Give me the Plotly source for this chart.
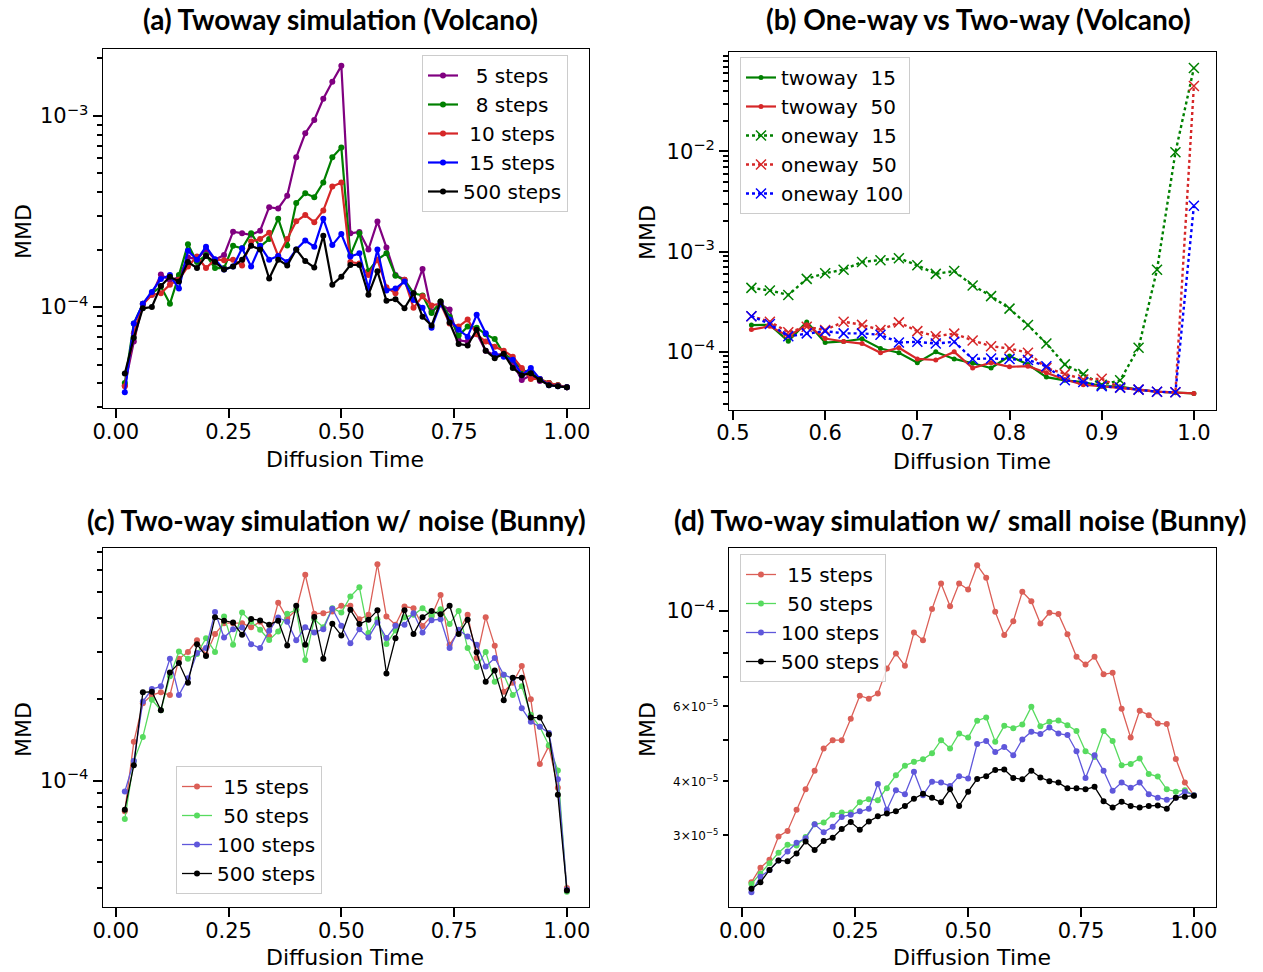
import math
import plotly.graph_objects as go

# ---------------- data ----------------
SCALE = 1e-5  # values below are MMD in units of 1e-5

t50 = [0.02, 0.04, 0.06, 0.08, 0.10, 0.12, 0.14, 0.16, 0.18, 0.20,
       0.22, 0.24, 0.26, 0.28, 0.30, 0.32, 0.34, 0.36, 0.38, 0.40,
       0.42, 0.44, 0.46, 0.48, 0.50, 0.52, 0.54, 0.56, 0.58, 0.60,
       0.62, 0.64, 0.66, 0.68, 0.70, 0.72, 0.74, 0.76, 0.78, 0.80,
       0.82, 0.84, 0.86, 0.88, 0.90, 0.92, 0.94, 0.96, 0.98, 1.00]
t25 = [0.52, 0.54, 0.56, 0.58, 0.60, 0.62, 0.64, 0.66, 0.68, 0.70,
       0.72, 0.74, 0.76, 0.78, 0.80, 0.82, 0.84, 0.86, 0.88, 0.90,
       0.92, 0.94, 0.96, 0.98, 1.00]

# (a) Twoway simulation (Volcano)
a_5 = [3.9, 6.6, 10.4, 11.6, 14.8, 13.8, 14.3, 18.2, 17.8, 20.0, 17.7, 18.7, 24.8, 24.3, 23.9, 25.1, 33.3, 32.8, 38.2, 60.8,
       81.2, 95.3, 123, 151, 183, 24.3, 24.7, 20.0, 28.0, 20.5, 14.7, 13.9, 11.8, 15.8, 9.5, 10.3, 9.7, 6.7, 6.6, 7.3,
       5.9, 5.6, 5.7, 5.1, 4.15, 4.4, 4.1, 4.0, 3.9, 3.8]
a_8 = [4.0, 8.2, 10.4, 11.8, 12.8, 10.4, 14.7, 21.3, 17.2, 18.7, 16.0, 16.0, 20.9, 20.3, 24.3, 20.7, 22.7, 29.0, 21.0, 35.0,
       39.4, 37.6, 44.8, 60.8, 68.3, 18.7, 24.3, 15.4, 17.7, 19.1, 14.6, 13.8, 11.8, 11.5, 9.3, 10.7, 8.9, 7.1, 7.9, 7.8,
       7.2, 6.8, 5.7, 5.3, 4.7, 4.5, 4.2, 4.0, 3.9, 3.8]
a_10 = [3.85, 7.3, 10.3, 11.6, 11.8, 13.1, 13.9, 16.3, 18.4, 16.0, 17.7, 17.6, 17.7, 16.5, 22.0, 22.7, 24.5, 18.5, 22.7, 28.1,
        30.3, 27.8, 32.0, 42.7, 44.8, 17.2, 16.9, 14.7, 17.7, 12.7, 11.8, 13.9, 9.9, 11.4, 10.2, 10.4, 8.2, 7.9, 8.6, 7.2,
        6.6, 6.2, 5.9, 5.5, 4.8, 4.2, 4.2, 4.0, 3.9, 3.8]
a_15 = [3.58, 8.2, 10.4, 12.0, 14.0, 14.7, 12.5, 19.7, 17.7, 20.7, 17.8, 15.7, 16.3, 20.3, 16.3, 20.9, 17.7, 18.5, 17.2, 20.0,
        22.3, 20.7, 29.0, 21.1, 24.1, 18.4, 19.1, 12.5, 20.0, 12.2, 12.5, 13.6, 10.9, 9.9, 7.8, 10.4, 8.6, 7.6, 7.0, 9.1,
        7.3, 5.7, 5.5, 5.3, 4.4, 4.8, 4.2, 3.9, 3.85, 3.8]
a_500 = [4.49, 6.9, 9.85, 10.0, 12.9, 14.4, 13.6, 17.2, 16.0, 18.5, 17.2, 15.7, 16.3, 17.7, 20.9, 20.0, 14.1, 17.7, 16.5, 20.0,
         17.4, 16.1, 23.6, 13.1, 14.4, 16.6, 16.6, 11.6, 15.4, 10.8, 11.0, 9.85, 11.8, 8.9, 8.0, 10.7, 8.3, 6.4, 6.3, 7.6,
         5.9, 5.4, 5.7, 4.8, 4.4, 4.5, 4.15, 3.9, 3.85, 3.8]

# (b) One-way vs Two-way (Volcano)
b_two15 = [18.5, 18.6, 12.8, 19.9, 12.4, 12.7, 13.5, 10.8, 9.8, 7.8, 10.0, 8.5, 7.7, 6.9, 9.1, 7.5, 5.6, 5.2, 5.0, 4.55,
           4.5, 4.2, 4.0, 3.9, 3.85]
b_two50 = [16.7, 18.0, 14.3, 18.6, 13.6, 12.7, 12.1, 9.8, 11.0, 8.5, 8.3, 10.0, 6.9, 7.8, 7.1, 7.2, 6.2, 5.3, 4.7, 4.55,
           4.4, 4.2, 4.0, 3.95, 3.85]
b_one15 = [43.5, 41, 37, 53.5, 61, 66, 79, 82, 86, 73, 60, 64, 46, 36, 27, 18.5, 12.1, 7.5, 6.0, 4.7,
           5.2, 11.0, 66, 980, 6800]
b_one50 = [22.7, 20.0, 15.7, 17.8, 16.5, 20.0, 18.6, 16.5, 19.7, 16.1, 14.3, 15.2, 13.0, 11.4, 10.8, 9.8, 6.9, 6.0, 5.3, 5.4,
           4.4, 4.2, 4.0, 3.95, 4500]
b_one100 = [22.7, 19.0, 14.3, 15.3, 16.1, 15.3, 15.3, 14.8, 12.4, 12.6, 12.1, 12.6, 8.5, 8.6, 8.5, 8.3, 7.2, 5.2, 5.0, 4.55,
            4.4, 4.2, 4.0, 3.95, 287]

# (c) Two-way simulation w/ noise (Bunny)
c_15 = [7.7, 13.9, 19.3, 20.7, 21.2, 20.7, 28.2, 29.9, 33.0, 29.2, 34.8, 38.2, 38.2, 38.2, 36.9, 38.7, 34.1, 45.5, 39.8, 42.8,
        57.7, 41.4, 41.6, 42.2, 44.3, 44.3, 39.5, 41.0, 63.1, 40.4, 37.7, 44.0, 43.4, 37.3, 40.6, 48.6, 31.8, 35.6, 41.0, 28.4,
        40.2, 31.5, 21.3, 23.0, 26.5, 20.0, 11.5, 13.4, 9.4, 4.0]
c_50 = [7.2, 11.8, 14.5, 19.9, 18.2, 24.3, 30.0, 28.2, 29.4, 33.6, 29.9, 40.4, 31.8, 41.8, 38.7, 36.1, 33.1, 35.6, 41.4, 42.8,
        27.9, 39.5, 36.9, 43.4, 41.8, 47.9, 51.9, 35.1, 39.5, 32.0, 35.9, 40.2, 41.0, 43.4, 40.6, 43.0, 37.9, 42.4, 30.9, 26.3,
        29.9, 23.2, 24.6, 20.7, 22.3, 17.5, 15.8, 13.5, 10.9, 3.88]
c_100 = [9.1, 11.8, 19.6, 21.8, 22.3, 28.2, 20.7, 23.9, 29.6, 30.9, 42.0, 33.8, 36.3, 36.8, 31.9, 30.9, 35.8, 40.1, 38.7, 33.0,
         36.9, 35.3, 36.3, 43.2, 37.4, 32.2, 36.3, 33.8, 38.4, 33.7, 37.4, 37.7, 41.6, 35.3, 39.2, 39.5, 30.9, 36.1, 34.1, 31.8,
         26.4, 28.4, 24.6, 23.9, 18.5, 16.5, 15.8, 15.0, 10.1, 3.94]
c_500 = [7.8, 11.4, 21.2, 21.3, 18.2, 25.1, 27.2, 23.0, 31.9, 28.9, 40.2, 39.0, 38.4, 34.6, 39.6, 39.1, 37.7, 39.0, 31.6, 44.3,
         31.8, 40.3, 28.2, 38.0, 34.4, 42.8, 37.9, 39.3, 42.6, 24.9, 33.6, 42.6, 34.8, 40.2, 42.4, 41.2, 44.3, 34.8, 39.3, 29.8,
         23.2, 25.5, 19.8, 24.0, 24.0, 17.1, 17.1, 14.8, 8.85, 3.92]

# (d) Two-way simulation w/ small noise (Bunny)
d_15 = [2.32, 2.51, 2.62, 2.97, 3.06, 3.43, 3.83, 4.23, 4.77, 4.99, 4.99, 5.60, 6.34, 6.24, 6.42, 7.34, 7.96, 7.45, 8.91, 8.55,
        10.11, 11.61, 10.27, 11.61, 11.24, 12.81, 11.97, 9.96, 8.79, 9.47, 11.10, 10.55, 9.36, 9.91, 9.84, 8.83, 7.82, 7.50, 7.82, 7.12,
        7.17, 5.91, 5.06, 5.85, 5.71, 5.46, 5.44, 4.51, 3.97, 3.71]
d_50 = [2.30, 2.43, 2.57, 2.72, 2.84, 2.83, 2.96, 3.17, 3.20, 3.34, 3.38, 3.38, 3.57, 3.63, 3.61, 3.85, 4.13, 4.35, 4.44, 4.50,
        4.65, 4.99, 4.77, 5.17, 5.06, 5.54, 5.64, 4.95, 5.39, 5.32, 5.43, 5.97, 5.38, 5.51, 5.55, 5.41, 5.24, 4.70, 4.56, 5.24,
        4.97, 4.36, 4.39, 4.52, 4.16, 4.10, 3.83, 3.78, 3.81, 3.71]
d_100 = [2.20, 2.39, 2.48, 2.61, 2.74, 2.87, 2.94, 3.17, 3.04, 3.13, 3.30, 3.34, 3.40, 3.45, 3.94, 3.43, 3.81, 3.73, 4.21, 3.71,
         3.99, 3.97, 3.90, 4.11, 4.06, 4.89, 4.97, 4.68, 4.81, 4.60, 5.01, 5.22, 5.16, 5.34, 5.17, 5.13, 4.70, 4.07, 4.60, 4.23,
         3.80, 3.97, 3.86, 3.97, 3.73, 3.66, 3.62, 3.66, 3.78, 3.71]
d_500 = [2.24, 2.32, 2.48, 2.61, 2.60, 2.71, 2.89, 2.76, 2.90, 2.95, 3.09, 3.21, 3.08, 3.22, 3.31, 3.36, 3.40, 3.50, 3.64, 3.74,
         3.66, 3.57, 3.83, 3.50, 3.78, 4.05, 4.11, 4.25, 4.26, 4.07, 4.04, 4.23, 4.08, 4.00, 3.97, 3.85, 3.85, 3.83, 3.88, 3.59,
         3.47, 3.58, 3.50, 3.47, 3.50, 3.51, 3.45, 3.66, 3.68, 3.70]

# tick labels
xt_full = [0.0, 0.25, 0.5, 0.75, 1.0]
xt_full_text = ["0.00", "0.25", "0.50", "0.75", "1.00"]
xt_b = [0.5, 0.6, 0.7, 0.8, 0.9, 1.0]
xt_b_text = ["0.5", "0.6", "0.7", "0.8", "0.9", "1.0"]

titles = ["(a) Twoway simulation (Volcano)", "(b) One-way vs Two-way (Volcano)",
          "(c) Two-way simulation w/ noise (Bunny)", "(d) Two-way simulation w/ small noise (Bunny)"]

NB = "\u00a0"


def sc(v):
    return [x * SCALE for x in v]


# the page's default body margin is removed (post_script) so the figure fills the window
W, H = 1263, 972


def px(x):
    return x / W


def py(y):
    return 1 - y / H


fig = go.Figure()

# ---- (a)
for name, vals, col in [(NB * 2 + "5 steps", a_5, "#800080"), (NB * 2 + "8 steps", a_8, "#008000"),
                        (NB + "10 steps", a_10, "#d62728"), (NB + "15 steps", a_15, "#0000ff"),
                        ("500 steps", a_500, "#000000")]:
    fig.add_trace(go.Scatter(x=t50, y=sc(vals), name=name, mode="lines+markers",
                             line=dict(color=col, width=2.2), marker=dict(color=col, size=6),
                             xaxis="x", yaxis="y", legend="legend"))

# ---- (b)
for name, vals, col in [("twoway" + NB * 2 + "15", b_two15, "#008000"), ("twoway" + NB * 2 + "50", b_two50, "#d62728")]:
    fig.add_trace(go.Scatter(x=t25, y=sc(vals), name=name, mode="lines+markers",
                             line=dict(color=col, width=2.2), marker=dict(color=col, size=5),
                             xaxis="x2", yaxis="y2", legend="legend2"))
for name, vals, col in [("oneway" + NB * 2 + "15", b_one15, "#008000"), ("oneway" + NB * 2 + "50", b_one50, "#d62728"),
                        ("oneway 100", b_one100, "#0000ff")]:
    fig.add_trace(go.Scatter(x=t25, y=sc(vals), name=name, mode="lines+markers",
                             line=dict(color=col, width=2.4, dash="dot"),
                             marker=dict(color=col, size=10, symbol="x-thin", line=dict(color=col, width=1.5)),
                             xaxis="x2", yaxis="y2", legend="legend2"))

# ---- (c) and (d)
cols_cd = ["#db5f57", "#57db5f", "#5f57db", "#000000"]
names_cd = [NB + "15 steps", NB + "50 steps", "100 steps", "500 steps"]
for name, vals, col in zip(names_cd, [c_15, c_50, c_100, c_500], cols_cd):
    fig.add_trace(go.Scatter(x=t50, y=sc(vals), name=name, mode="lines+markers",
                             line=dict(color=col, width=1.3), marker=dict(color=col, size=6),
                             xaxis="x3", yaxis="y3", legend="legend3"))
for name, vals, col in zip(names_cd, [d_15, d_50, d_100, d_500], cols_cd):
    fig.add_trace(go.Scatter(x=t50, y=sc(vals), name=name, mode="lines+markers",
                             line=dict(color=col, width=1.3), marker=dict(color=col, size=6),
                             xaxis="x4", yaxis="y4", legend="legend4"))

TICKFONT = dict(family="DejaVu Sans", size=21, color="black")


def xax(domain, anchor, rng, tv, tt):
    return dict(domain=domain, anchor=anchor, range=rng, tickmode="array", tickvals=tv, ticktext=tt,
                showline=True, linecolor="black", linewidth=1.3, mirror=True, ticks="outside",
                ticklen=9, tickwidth=2.2, tickcolor="black", showgrid=False, zeroline=False,
                tickfont=TICKFONT, automargin=False, ticklabelstandoff=-5)


def minor_vals(decades, lo, hi):
    out = []
    for d in decades:
        for m in range(2, 10):
            v = m * 10.0 ** d
            if lo <= v <= hi:
                out.append(v)
    return out


def yax(domain, anchor, rng, tv, tt, minors):
    return dict(domain=domain, anchor=anchor, type="log", range=rng, tickmode="array", tickvals=tv, ticktext=tt,
                showline=True, linecolor="black", linewidth=1.3, mirror=True, ticks="outside",
                ticklen=9, tickwidth=2.4, tickcolor="black", showgrid=False, zeroline=False,
                tickfont=TICKFONT, automargin=False,
                minor=dict(tickmode="array", tickvals=minors, ticks="outside", ticklen=5,
                           tickwidth=1.6, tickcolor="black", showgrid=False))


dom_left = [px(102.7), px(589)]
dom_right = [px(729.3), px(1216)]
dom_top_a = [py(408.3), py(49.3)]
dom_top_b = [py(410), py(51.7)]
dom_bot = [py(907.3), py(548.3)]

ya_rng = [-4.53, -2.651]
yb_rng = [-4.58, -1.005]
yc_rng = [-4.469, -3.141]
yd_rng = [-4.693, -3.853]

fig.update_layout(
    width=W, height=H, margin=dict(l=0, r=0, t=0, b=0, autoexpand=False),
    paper_bgcolor="white", plot_bgcolor="white",
    xaxis=xax(dom_left, "y", [-0.029, 1.049], xt_full, xt_full_text),
    yaxis=yax(dom_top_a, "x", ya_rng, [1e-4, 1e-3], ["10<sup>−4</sup>", "10<sup>−3</sup>"],
              minor_vals([-5, -4, -3], 10 ** ya_rng[0], 10 ** ya_rng[1])),
    xaxis2=xax(dom_right, "y2", [0.496, 1.024], xt_b, xt_b_text),
    yaxis2=yax(dom_top_b, "x2", yb_rng, [1e-4, 1e-3, 1e-2],
               ["10<sup>−4</sup>", "10<sup>−3</sup>", "10<sup>−2</sup>"],
               minor_vals([-5, -4, -3, -2], 10 ** yb_rng[0], 10 ** yb_rng[1])),
    xaxis3=xax(dom_left, "y3", [-0.029, 1.049], xt_full, xt_full_text),
    yaxis3=yax(dom_bot, "x3", yc_rng, [1e-4], ["10<sup>−4</sup>"],
               minor_vals([-5, -4], 10 ** yc_rng[0], 10 ** yc_rng[1])),
    xaxis4=xax(dom_right, "y4", [-0.029, 1.049], xt_full, xt_full_text),
    yaxis4=yax(dom_bot, "x4", yd_rng, [1e-4], ["10<sup>−4</sup>"],
               minor_vals([-5, -4], 10 ** yd_rng[0], 10 ** yd_rng[1])),
)

LEG = dict(xanchor="left", yanchor="top", bgcolor="rgba(255,255,255,0.85)", bordercolor="#cccccc",
           borderwidth=1, font=dict(family="DejaVu Sans", size=20, color="black"), itemwidth=30,
           tracegroupgap=0)
fig.update_layout(
    legend=dict(LEG, x=px(422), y=py(55)),
    legend2=dict(LEG, x=px(740), y=py(57)),
    legend3=dict(LEG, x=px(176), y=py(766)),
    legend4=dict(LEG, x=px(740), y=py(554)),
)

ann = []
TF = dict(family="Lato", size=28, color="black")
for txt, x, y in [(titles[0], 340, 19), (titles[1], 978, 19), (titles[2], 336, 520), (titles[3], 960, 520)]:
    ann.append(dict(text="<b>" + txt + "</b>", x=px(x), y=py(y), xref="paper", yref="paper",
                    showarrow=False, xanchor="center", yanchor="middle", font=TF))
LF = dict(family="DejaVu Sans", size=22, color="black")
for x, y in [(345, 460), (972, 461), (345, 957), (972, 957)]:
    ann.append(dict(text="Diffusion Time", x=px(x), y=py(y), xref="paper", yref="paper",
                    showarrow=False, xanchor="center", yanchor="middle", font=LF))
for x, y in [(23, 232), (647, 233), (23, 730), (647, 730)]:
    ann.append(dict(text="MMD", x=px(x), y=py(y), xref="paper", yref="paper", textangle=-90,
                    showarrow=False, xanchor="center", yanchor="middle", font=LF))
# small minor-tick labels on panel (d)
for val, lab in [(6e-5, "6×10<sup>−5</sup>"), (4e-5, "4×10<sup>−5</sup>"), (3e-5, "3×10<sup>−5</sup>")]:
    ann.append(dict(text=lab, x=px(720), y=math.log10(val), xref="paper", yref="y4",
                    showarrow=False, xanchor="right", yanchor="middle",
                    font=dict(family="DejaVu Sans", size=12, color="black")))
fig.update_layout(annotations=ann)

fig.write_html("out.html", config={"displayModeBar": False},
               post_script="document.body.style.margin='0px';document.body.style.overflow='hidden';")
